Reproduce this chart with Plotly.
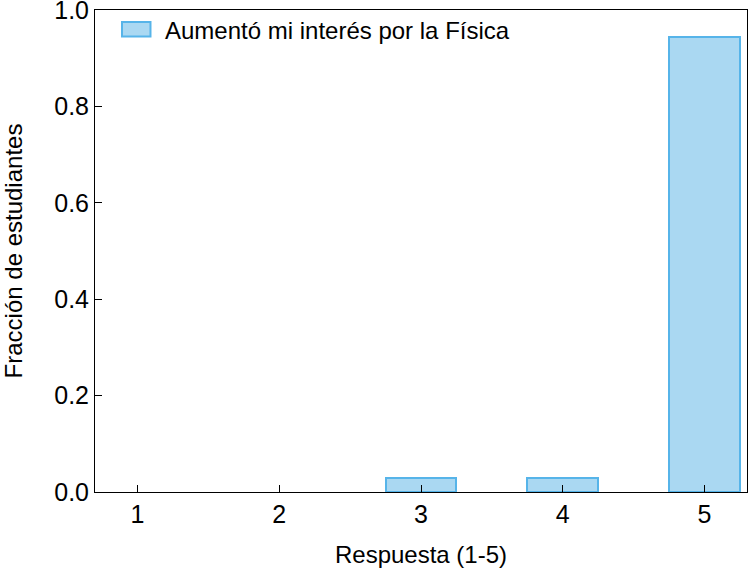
import plotly.graph_objects as go

respuestas = [1, 2, 3, 4, 5]
fraccion = [0.0, 0.0, 0.029, 0.029, 0.943]
serie = "Aumentó mi interés por la Física"
y_ticks = [0.0, 0.2, 0.4, 0.6, 0.8, 1.0]
y_labels = ["0.0", "0.2", "0.4", "0.6", "0.8", "1.0"]

FONT = "Liberation Sans, Arial"
FILL = "#aad8f2"
EDGE = "#56b4e9"

# empty bars get no outline, as in the original
line_w = [2 if v > 0 else 0 for v in fraccion]

fig = go.Figure()
fig.add_trace(go.Bar(
    x=respuestas, y=fraccion, name=serie, width=0.5,
    marker=dict(color=FILL, line=dict(color=EDGE, width=line_w)),
    showlegend=False,
))

axis_common = dict(
    showgrid=False, zeroline=False, showline=True, linecolor="black", linewidth=1,
    mirror=True, ticks="inside", ticklen=7, tickcolor="black", automargin=False,
    ticklabeloverflow="allow",
    tickfont=dict(family=FONT, size=25, color="black"),
)
fig.update_xaxes(range=[0.7, 5.3], tickvals=respuestas, **axis_common,
                 title=dict(text="Respuesta (1-5)", font=dict(family=FONT, size=24, color="black"), standoff=19))
fig.update_yaxes(range=[0, 1.0], tickvals=y_ticks, ticktext=y_labels, **axis_common,
                 title=dict(text="Fracción de estudiantes", font=dict(family=FONT, size=24, color="black"), standoff=25))

# gnuplot-style key in the top left corner
fig.add_shape(type="rect", xref="paper", yref="paper",
              x0=0.0414, x1=0.0851, y0=0.945, y1=0.975,
              fillcolor=FILL, line=dict(color=EDGE, width=2))
fig.add_annotation(text=serie, xref="paper", yref="paper", x=0.105, y=0.9585,
                   xanchor="left", yanchor="middle", showarrow=False,
                   font=dict(family=FONT, size=24, color="black"))

fig.update_layout(
    width=748, height=574,
    margin=dict(l=95, r=1, t=10, b=82),
    plot_bgcolor="white", paper_bgcolor="white",
    bargap=0,
)
fig.write_html("out.html", config={"displayModeBar": False},
               post_script="document.body.style.margin='0';")
